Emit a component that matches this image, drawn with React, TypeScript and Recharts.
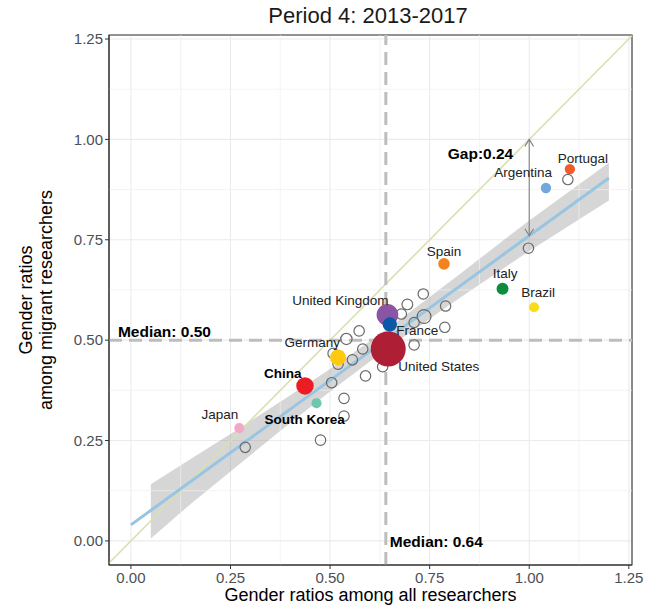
import React from 'react';
import {
  ComposedChart,
  XAxis,
  YAxis,
  ZAxis,
  CartesianGrid,
  Scatter,
  Line,
  Area,
  ReferenceLine,
  ReferenceArea,
  Cell,
  Label,
} from 'recharts';

// Highlighted countries: gender ratio among all researchers (x), among migrant researchers (y)
const countryNames = [
  'Portugal', 'Argentina', 'Spain', 'Italy', 'Brazil', 'United Kingdom',
  'France', 'United States', 'Germany', 'China', 'South Korea', 'Japan',
];
const countryAllRatio = [1.102, 1.042, 0.786, 0.933, 1.012, 0.644, 0.65, 0.646, 0.52, 0.437, 0.466, 0.272];
const countryMigrantRatio = [0.926, 0.879, 0.69, 0.628, 0.582, 0.563, 0.539, 0.478, 0.457, 0.386, 0.343, 0.281];
const countryResearchers = [8.5, 8.5, 10.6, 11.3, 8, 37, 16, 96, 20, 24, 8, 8];

// Remaining countries (unlabelled)
const otherAllRatio = [
  0.734, 0.694, 0.79, 0.679, 0.736, 0.711, 0.788, 0.573, 0.541, 0.711, 0.582, 0.508,
  0.556, 0.52, 0.632, 0.589, 0.504, 0.535, 0.535, 0.476, 0.287, 0.998, 1.097,
];
const otherMigrantRatio = [
  0.615, 0.589, 0.585, 0.565, 0.559, 0.544, 0.532, 0.523, 0.503, 0.488, 0.478, 0.467,
  0.451, 0.44, 0.434, 0.411, 0.394, 0.355, 0.311, 0.251, 0.233, 0.729, 0.9,
];
const otherResearchers = [
  8.5, 9, 8.5, 8.5, 15, 8.5, 8.5, 8.5, 10, 8.5, 8.5, 9,
  8.5, 8.5, 8.5, 8.5, 8.5, 8.5, 8.5, 8.5, 8.5, 8.5, 8.5,
];

// Linear fit and its confidence band
const fitX = [0, 1.2];
const fitY = [0.04, 0.904];
const bandX = [0.05, 0.15, 0.27, 0.38, 0.5, 0.65, 0.83, 1.0, 1.2];
const bandLow = [0.006, 0.092, 0.189, 0.278, 0.372, 0.484, 0.608, 0.722, 0.848];
const bandHigh = [0.141, 0.204, 0.279, 0.35, 0.428, 0.532, 0.668, 0.798, 0.942];

// Reference values
const medianAll = 0.64;
const medianMigrant = 0.5;
const gapAt = 1.0;
const gapValue = 0.24;

const axisTicks = [0, 0.25, 0.5, 0.75, 1, 1.25];
const minorTicks = [0.125, 0.375, 0.625, 0.875, 1.125];

const X_DOMAIN: [number, number] = [-0.055, 1.258];
const Y_DOMAIN: [number, number] = [-0.06, 1.26];

const FONT = '"Liberation Sans", Arial, Helvetica, sans-serif';

const countryColors: Record<string, string> = {
  Portugal: '#F15A2B',
  Argentina: '#72A8DE',
  Spain: '#F58220',
  Italy: '#0D8C3F',
  Brazil: '#F8DC1C',
  'United Kingdom': '#8A55A6',
  France: '#0B58A6',
  'United States': '#AE1F35',
  Germany: '#FFC90F',
  China: '#EC1C24',
  'South Korea': '#6CC7AE',
  Japan: '#F4A8C8',
};

type Anchor = 'start' | 'middle' | 'end';
const labelLayout: Record<string, { anchor: Anchor; dx: number; dy: number; bold?: boolean }> = {
  Portugal: { anchor: 'middle', dx: 13, dy: -11 },
  Argentina: { anchor: 'end', dx: 6, dy: -16 },
  Spain: { anchor: 'middle', dx: 0, dy: -12.5 },
  Italy: { anchor: 'middle', dx: 2.5, dy: -15.5 },
  Brazil: { anchor: 'middle', dx: 4, dy: -15 },
  'United Kingdom': { anchor: 'end', dx: 1, dy: -14.5 },
  France: { anchor: 'start', dx: 6.5, dy: 6 },
  'United States': { anchor: 'start', dx: 10, dy: 17.5 },
  Germany: { anchor: 'end', dx: 2, dy: -15.5 },
  China: { anchor: 'end', dx: -3.5, dy: -12.5, bold: true },
  'South Korea': { anchor: 'middle', dx: -12, dy: 16, bold: true },
  Japan: { anchor: 'end', dx: -1, dy: -13.5 },
};

const countryPoints = countryNames.map((name, i) => ({
  name,
  x: countryAllRatio[i],
  y: countryMigrantRatio[i],
  z: countryResearchers[i],
}));

const otherPoints = otherAllRatio.map((x, i) => ({
  x,
  y: otherMigrantRatio[i],
  z: otherResearchers[i],
}));

const fitData = fitX.map((x, i) => ({ x, y: fitY[i] }));
const bandData = bandX.map((x, i) => ({ x, band: [bandLow[i], bandHigh[i]] }));

const gapTop = gapAt;
const gapBottom = +(gapAt - gapValue).toFixed(2);
const gapData = [
  { x: gapAt, y: gapTop, head: 'up' },
  { x: gapAt, y: gapBottom, head: 'down' },
];

const annotations = [
  { id: 'medianMigrant', x: 0, y: medianMigrant, text: `Median: ${medianMigrant.toFixed(2)}` },
  { id: 'medianAll', x: medianAll, y: 0, text: `Median: ${medianAll.toFixed(2)}` },
  { id: 'gap', x: gapAt, y: gapTop, text: `Gap:${gapValue.toFixed(2)}` },
];
const annotationLayout: Record<string, { anchor: Anchor; dx: number; dy: number }> = {
  medianMigrant: { anchor: 'start', dx: -13, dy: -3 },
  medianAll: { anchor: 'start', dx: 4, dy: 6 },
  gap: { anchor: 'end', dx: -16, dy: 20 },
};

const fmt = (v: number) => v.toFixed(2);

const CountryLabel = (props: any) => {
  const { cx, cy, payload } = props;
  const layout = labelLayout[payload.name];
  if (!layout || cx == null) return <g />;
  return (
    <text
      x={cx + layout.dx}
      y={cy + layout.dy}
      dy="0.35em"
      textAnchor={layout.anchor}
      fontSize={13.5}
      fontWeight={layout.bold ? 700 : 400}
      fill={layout.bold ? '#000000' : '#222222'}
      fontFamily={FONT}
    >
      {payload.name}
    </text>
  );
};

const AnnotationText = (props: any) => {
  const { cx, cy, payload } = props;
  const layout = annotationLayout[payload.id];
  return (
    <text
      x={cx + layout.dx}
      y={cy + layout.dy}
      textAnchor={layout.anchor}
      fontSize={15.5}
      fontWeight={700}
      fill="#000000"
      fontFamily={FONT}
    >
      {payload.text}
    </text>
  );
};

const ArrowHead = (props: any) => {
  const { cx, cy, payload } = props;
  const s = payload.head === 'up' ? 1 : -1;
  return (
    <path
      d={`M${cx - 4.3},${cy + s * 7} L${cx},${cy} L${cx + 4.3},${cy + s * 7}`}
      fill="none"
      stroke="#808080"
      strokeWidth={1.1}
    />
  );
};

const XTitle = (props: any) => {
  const vb = props.viewBox;
  return (
    <text
      x={vb.x + vb.width / 2}
      y={vb.y + 36}
      textAnchor="middle"
      fontSize={18}
      fill="#000000"
      fontFamily={FONT}
    >
      Gender ratios among all researchers
    </text>
  );
};

const YTitle = (props: any) => {
  const vb = props.viewBox;
  const cy = vb.y + vb.height / 2;
  return (
    <g>
      <text
        transform={`translate(32, ${cy}) rotate(-90)`}
        textAnchor="middle"
        fontSize={18}
        fill="#000000"
        fontFamily={FONT}
      >
        Gender ratios
      </text>
      <text
        transform={`translate(52, ${cy}) rotate(-90)`}
        textAnchor="middle"
        fontSize={18}
        fill="#000000"
        fontFamily={FONT}
      >
        among migrant researchers
      </text>
    </g>
  );
};

export default function App() {
  return (
    <div
      style={{
        position: 'absolute',
        left: 0,
        top: 0,
        width: 651,
        height: 610,
        background: '#ffffff',
        fontFamily: FONT,
      }}
    >
      <div
        style={{
          position: 'absolute',
          left: 109,
          width: 518,
          top: 0,
          textAlign: 'center',
          fontSize: 22,
          lineHeight: '32px',
          color: '#1A1A1A',
        }}
      >
        Period 4: 2013-2017
      </div>
      <ComposedChart width={651} height={610} margin={{ top: 35, right: 19, bottom: 15, left: 0 }}>
        <CartesianGrid stroke="#EBEBEB" strokeWidth={1.1} />
        {minorTicks.map((v) => (
          <ReferenceLine key={`mx${v}`} x={v} stroke="#EFEFEF" strokeWidth={0.7} />
        ))}
        {minorTicks.map((v) => (
          <ReferenceLine key={`my${v}`} y={v} stroke="#EFEFEF" strokeWidth={0.7} />
        ))}
        <XAxis
          type="number"
          dataKey="x"
          domain={X_DOMAIN}
          ticks={axisTicks}
          interval={0}
          allowDataOverflow
          height={30}
          tickFormatter={fmt}
          tick={{ fill: '#4D4F55', fontSize: 15 }}
          tickSize={4}
          tickMargin={3}
          stroke="#333333"
        >
          <Label content={XTitle} />
        </XAxis>
        <YAxis
          type="number"
          dataKey="y"
          domain={Y_DOMAIN}
          ticks={axisTicks}
          interval={0}
          allowDataOverflow
          width={109}
          tickFormatter={fmt}
          tick={{ fill: '#4D4F55', fontSize: 15 }}
          tickSize={4}
          tickMargin={2}
          stroke="#333333"
        >
          <Label content={YTitle} />
        </YAxis>
        <ZAxis type="number" dataKey="z" domain={[0, 100]} range={[0, 1000]} />

        <Area
          data={bandData}
          dataKey="band"
          type="linear"
          fill="#999999"
          fillOpacity={0.4}
          stroke="none"
          isAnimationActive={false}
        />
        <ReferenceLine
          segment={[
            { x: X_DOMAIN[0], y: X_DOMAIN[0] },
            { x: X_DOMAIN[1], y: X_DOMAIN[1] },
          ]}
          stroke="#D8E0B0"
          strokeWidth={1.6}
        />
        <Line
          data={fitData}
          dataKey="y"
          type="linear"
          stroke="#97C5E2"
          strokeWidth={3}
          dot={false}
          activeDot={false}
          isAnimationActive={false}
        />
        <ReferenceLine x={medianAll} stroke="#BDBDBD" strokeWidth={3} strokeDasharray="13 7" />
        <ReferenceLine y={medianMigrant} stroke="#BDBDBD" strokeWidth={3} strokeDasharray="13 7" />

        <Scatter
          data={gapData}
          line={{ stroke: '#808080', strokeWidth: 1.1 }}
          shape={ArrowHead}
          isAnimationActive={false}
        />
        <Scatter
          data={otherPoints}
          fill="none"
          stroke="#6A6A6A"
          strokeWidth={1.2}
          isAnimationActive={false}
        />
        <Scatter data={countryPoints} isAnimationActive={false}>
          {countryPoints.map((p) => (
            <Cell key={p.name} fill={countryColors[p.name]} />
          ))}
        </Scatter>
        <Scatter data={countryPoints} shape={CountryLabel} isAnimationActive={false} />
        <Scatter data={annotations} shape={AnnotationText} isAnimationActive={false} />

        <ReferenceArea
          x1={X_DOMAIN[0]}
          x2={X_DOMAIN[1]}
          y1={Y_DOMAIN[0]}
          y2={Y_DOMAIN[1]}
          fill="none"
          stroke="#333333"
          strokeWidth={1.1}
        />
      </ComposedChart>
    </div>
  );
}
